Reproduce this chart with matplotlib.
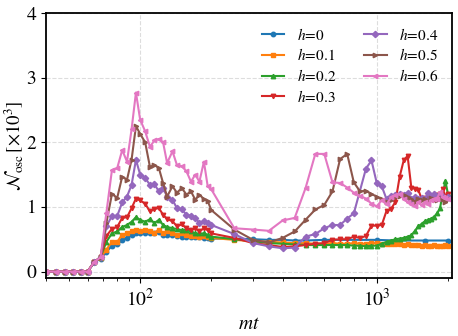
import matplotlib
matplotlib.use("Agg")
import matplotlib.pyplot as plt

plt.rcParams['font.family'] = 'STIXGeneral'
plt.rcParams['mathtext.fontset'] = 'stix'

# shared early time grid (mt)
mt_early = [40, 44, 48, 52, 56, 60, 64, 68, 72, 76, 80, 84, 88, 92, 96,
            100, 105, 110, 115, 120, 125, 130, 137, 143, 150, 157, 164, 171, 178, 186, 193, 200]

mt_late = [250, 300, 350, 400, 450, 500, 550, 600, 650, 700, 750, 800, 850, 900, 950, 1000,
           1050, 1100, 1150, 1200, 1250, 1300, 1350, 1400, 1450, 1500, 1550, 1600, 1650, 1700,
           1750, 1800, 1850, 1900, 1950, 2000]

# h = 0
y0_early = [0, 0, 0, 0, 0, 0, 0.14, 0.2, 0.3, 0.4, 0.42, 0.49, 0.52, 0.56, 0.59,
            0.59, 0.6, 0.59, 0.59, 0.61, 0.57, 0.57, 0.56, 0.55, 0.54, 0.54, 0.53, 0.53, 0.53, 0.52, 0.52, 0.51]
x0_late = [250, 300, 350, 400, 450, 500, 600, 1000, 1200, 1600, 2000]
y0_late = [0.51, 0.5, 0.49, 0.49, 0.48, 0.48, 0.49, 0.49, 0.48, 0.48, 0.48]

# h = 0.1
y1_early = [0, 0, 0, 0, 0, 0, 0.15, 0.21, 0.34, 0.46, 0.46, 0.57, 0.59, 0.62, 0.65,
            0.62, 0.64, 0.62, 0.6, 0.65, 0.59, 0.62, 0.6, 0.57, 0.59, 0.57, 0.55, 0.55, 0.54, 0.55, 0.53, 0.52]
y1_late = [0.49, 0.47, 0.46, 0.45, 0.44, 0.44, 0.43, 0.43, 0.44, 0.43, 0.43, 0.44, 0.43, 0.43, 0.44, 0.44,
           0.43, 0.43, 0.42, 0.42, 0.42, 0.41, 0.42, 0.41, 0.41, 0.41, 0.4, 0.41, 0.4, 0.4,
           0.41, 0.4, 0.4, 0.39, 0.41, 0.4]

# h = 0.2
y2_early = [0, 0, 0, 0, 0, 0, 0.15, 0.22, 0.46, 0.59, 0.62, 0.69, 0.72, 0.77, 0.84,
            0.8, 0.77, 0.81, 0.75, 0.8, 0.72, 0.69, 0.67, 0.66, 0.64, 0.65, 0.62, 0.59, 0.59, 0.59, 0.57, 0.54]
x2_late = [250, 300, 350, 400, 450, 500, 550, 600, 650, 700, 750, 800, 850, 900, 950, 1000,
           1050, 1100, 1150, 1200, 1250, 1300, 1350, 1400, 1450, 1500, 1550, 1600, 1650, 1700,
           1750, 1800, 1850, 1950, 2000]
y2_late = [0.5, 0.47, 0.44, 0.43, 0.42, 0.41, 0.41, 0.41, 0.41, 0.41, 0.41, 0.4, 0.4, 0.39, 0.4, 0.4,
           0.43, 0.46, 0.48, 0.5, 0.51, 0.52, 0.54, 0.56, 0.63, 0.7, 0.74, 0.78, 0.8, 0.82,
           0.85, 0.9, 0.98, 1.4, 1.2]

# h = 0.3
y3_early = [0, 0, 0, 0, 0, 0, 0.15, 0.22, 0.55, 0.66, 0.69, 0.83, 0.84, 0.98, 1.13,
            1.1, 1.05, 0.93, 0.97, 0.98, 0.88, 0.81, 0.78, 0.7, 0.73, 0.67, 0.64, 0.67, 0.62, 0.67, 0.64, 0.59]
y3_late = [0.52, 0.44, 0.41, 0.38, 0.39, 0.41, 0.43, 0.44, 0.49, 0.5, 0.5, 0.54, 0.52, 0.55, 0.71, 0.71,
           0.72, 0.94, 0.97, 1.08, 1.47, 1.72, 1.79, 1.3, 1.28, 1.26, 1.12, 1.14, 1.12, 1.15,
           1.13, 1.18, 1.2, 1.27, 1.17, 1.2]

# h = 0.4
y4_early = [0, 0, 0, 0, 0, 0, 0.15, 0.22, 0.7, 0.86, 0.86, 1.07, 1.16, 1.34, 1.73,
            1.5, 1.45, 1.34, 1.35, 1.24, 1.29, 1.16, 1.11, 0.98, 0.96, 0.88, 0.86, 0.83, 0.75, 0.78, 0.75, 0.72]
x4_late = [250, 300, 350, 400, 450, 500, 550, 600, 650, 700, 750, 800, 900, 950, 1000,
           1050, 1100, 1150, 1200, 1250, 1300, 1350, 1400, 1450, 1500, 1550, 1600, 1650, 1700,
           1750, 1800, 1850, 1900, 1950, 2000]
y4_late = [0.58, 0.44, 0.39, 0.36, 0.37, 0.54, 0.58, 0.67, 0.72, 0.72, 0.82, 0.9, 1.59, 1.72, 1.37,
           1.32, 1.12, 1.17, 1.18, 1.2, 1.18, 1.22, 1.12, 1.15, 1.12, 1.14, 1.12, 1.22, 1.15,
           1.2, 1.14, 1.2, 1.16, 1.12, 1.16]

# h = 0.5
y5_early = [0, 0, 0, 0, 0, 0, 0.15, 0.22, 0.75, 1.2, 1.14, 1.47, 1.42, 1.73, 2.25,
            2.13, 2.0, 1.62, 1.65, 1.6, 1.37, 1.16, 1.32, 1.22, 1.29, 1.19, 1.24, 1.11, 1.19, 1.12, 1.09, 0.95]
y5_late = [0.65, 0.49, 0.45, 0.52, 0.62, 0.8, 0.96, 1.03, 1.24, 1.74, 1.82, 1.38, 1.24, 1.25, 1.2, 1.16,
           1.12, 1.08, 1.11, 1.15, 1.17, 1.19, 1.15, 1.12, 1.08, 1.13, 1.1, 1.12, 1.08, 1.14,
           1.12, 1.1, 1.14, 1.12, 1.08, 1.13]

# h = 0.6
y6_early = [0, 0, 0, 0, 0, 0, 0.15, 0.22, 0.91, 1.57, 1.6, 1.88, 1.7, 2.2, 2.77,
            2.35, 2.17, 1.93, 2.03, 2.05, 2.0, 1.68, 1.86, 1.65, 1.63, 1.55, 1.39, 1.5, 1.39, 1.7, 1.32, 1.27]
y6_late = [0.67, 0.65, 0.63, 0.79, 0.83, 1.29, 1.82, 1.82, 1.38, 1.37, 1.3, 1.22, 1.17, 1.13, 1.05, 1.01,
           1.1, 1.04, 1.15, 1.18, 1.2, 1.12, 1.08, 1.04, 1.01, 1.07, 1.03, 1.08, 1.05, 1.1,
           1.13, 1.13, 1.23, 1.15, 1.14, 1.12]

series = [
    (mt_early + x0_late, y0_early + y0_late, 'o', r'$h\!=\!0$'),
    (mt_early + mt_late, y1_early + y1_late, 's', r'$h\!=\!0.1$'),
    (mt_early + x2_late, y2_early + y2_late, '^', r'$h\!=\!0.2$'),
    (mt_early + mt_late, y3_early + y3_late, 'v', r'$h\!=\!0.3$'),
    (mt_early + x4_late, y4_early + y4_late, 'D', r'$h\!=\!0.4$'),
    (mt_early + mt_late, y5_early + y5_late, '>', r'$h\!=\!0.5$'),
    (mt_early + mt_late, y6_early + y6_late, '<', r'$h\!=\!0.6$'),
]

fig = plt.figure(figsize=(4.58, 3.36), dpi=100)
ax = fig.add_axes([0.1004, 0.1726, 0.8865, 0.7887])

for x, y, m, lab in series:
    ax.plot(x, y, marker=m, markersize=3.2, linewidth=1.5, label=lab)

ax.set_xscale('log')
ax.set_xlim(40, 2080)
ax.set_ylim(-0.1, 4)
ax.set_yticks([0, 1, 2, 3, 4])
ax.grid(True, which='major', linestyle='--', color='#dddddd', linewidth=0.8)
ax.tick_params(labelsize=14)
for s in ax.spines.values():
    s.set_linewidth(1.3)

ax.set_xlabel(r'$mt$', fontsize=14)
ax.set_ylabel(r'$\mathcal{N}_{\rm osc}\,[\times 10^3]$', fontsize=13.5, labelpad=1)

ax.legend(ncol=2, loc='upper right', frameon=False, fontsize=11,
          handlelength=1.5, labelspacing=0.3, columnspacing=1.8)

fig.savefig('out.png', dpi=100)
